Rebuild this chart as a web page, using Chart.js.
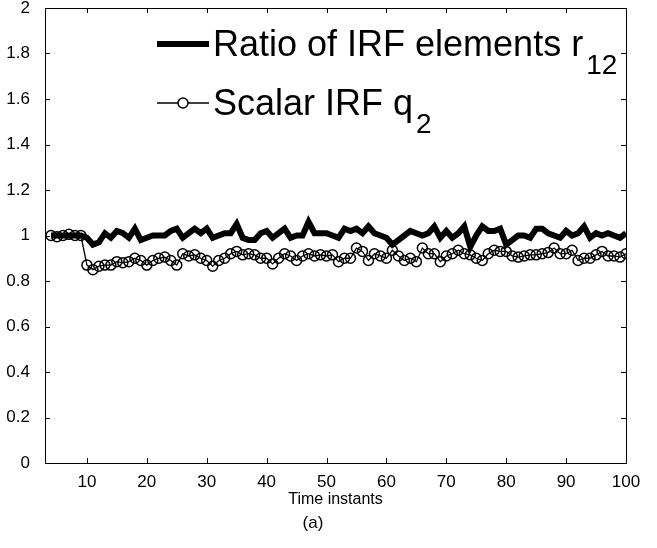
<!DOCTYPE html>
<html>
<head>
<meta charset="utf-8">
<script src="https://cdn.jsdelivr.net/npm/chart.js@4.4.0/dist/chart.umd.min.js"></script>
<style>
    html, body { margin: 0; padding: 0; background: #fff; }
    #wrap { position: relative; width: 657px; height: 548px; }
</style>
</head>
<body>
<div id="wrap"><canvas id="irf-chart"></canvas></div>
<script>
const timeInstants = [4, 5, 6, 7, 8, 9, 10, 11, 12, 13, 14, 15, 16, 17, 18, 19, 20,
    21, 22, 23, 24, 25, 26, 27, 28, 29, 30, 31, 32, 33, 34, 35, 36, 37, 38, 39, 40,
    41, 42, 43, 44, 45, 46, 47, 48, 49, 50, 51, 52, 53, 54, 55, 56, 57, 58, 59, 60,
    61, 62, 63, 64, 65, 66, 67, 68, 69, 70, 71, 72, 73, 74, 75, 76, 77, 78, 79, 80,
    81, 82, 83, 84, 85, 86, 87, 88, 89, 90, 91, 92, 93, 94, 95, 96, 97, 98, 99, 100];

const ratioR12 = [1.00, 1.00, 1.00, 1.00, 1.00, 1.00, 0.99, 0.96, 0.97, 1.01, 0.99, 1.02, 1.01, 0.99, 1.03, 0.98, 0.99,
    1.00, 1.00, 1.00, 1.02, 1.03, 0.99, 1.01, 1.03, 1.01, 1.03, 0.99, 1.00, 1.01, 1.01, 1.05, 0.99, 0.98, 0.98, 1.01, 1.02,
    0.99, 1.01, 1.03, 0.99, 1.00, 1.00, 1.06, 1.01, 1.01, 1.01, 1.00, 0.99, 1.03, 1.02, 1.03, 1.01, 1.04, 1.01, 1.00, 0.99,
    0.96, 0.98, 1.00, 1.02, 1.01, 1.00, 1.01, 1.04, 0.99, 1.02, 0.99, 1.01, 1.04, 0.95, 1.00, 1.04, 1.02, 1.02, 1.03, 0.96,
    0.98, 1.00, 1.00, 0.99, 1.03, 1.03, 1.01, 1.00, 0.99, 1.02, 1.00, 1.01, 1.04, 0.99, 1.01, 1.00, 1.01, 1.00, 0.99, 1.01];

const scalarQ2 = [1.00, 0.995, 1.00, 1.005, 1.00, 1.00, 0.87, 0.85, 0.865, 0.87, 0.87, 0.885, 0.88, 0.885, 0.90, 0.89, 0.87,
    0.89, 0.90, 0.905, 0.89, 0.87, 0.92, 0.91, 0.915, 0.90, 0.89, 0.865, 0.89, 0.90, 0.92, 0.93, 0.915, 0.92, 0.915, 0.90, 0.90,
    0.875, 0.90, 0.92, 0.91, 0.89, 0.91, 0.92, 0.91, 0.915, 0.91, 0.915, 0.885, 0.90, 0.90, 0.945, 0.93, 0.89, 0.92, 0.91, 0.90,
    0.935, 0.91, 0.89, 0.90, 0.885, 0.945, 0.92, 0.92, 0.885, 0.91, 0.92, 0.935, 0.92, 0.915, 0.90, 0.89, 0.92, 0.935, 0.93, 0.93,
    0.91, 0.905, 0.91, 0.915, 0.915, 0.92, 0.925, 0.945, 0.92, 0.92, 0.935, 0.89, 0.90, 0.90, 0.915, 0.93, 0.91, 0.91, 0.905, 0.92];

const xTickValues = [10, 20, 30, 40, 50, 60, 70, 80, 90, 100];
const yTickValues = [0, 0.2, 0.4, 0.6, 0.8, 1, 1.2, 1.4, 1.6, 1.8, 2];

const legendItems = [
    { text: 'Ratio of IRF elements r', sub: '12', marker: false },
    { text: 'Scalar IRF q', sub: '2', marker: true }
];

const FONT = "'Liberation Sans', Arial, Helvetica, sans-serif";

// box round the plot with inward tick marks, plus the legend (needs subscripts)
const boxAndLegend = {
    id: 'boxAndLegend',
    afterDraw(chart) {
        const ctx = chart.ctx;
        const area = chart.chartArea;
        const xs = chart.scales.x;
        const ys = chart.scales.y;
        const tick = 5;

        ctx.save();
        ctx.strokeStyle = '#000';
        ctx.lineWidth = 1;
        ctx.strokeRect(Math.round(area.left) + 0.5, Math.round(area.top) + 0.5,
            Math.round(area.right - area.left), Math.round(area.bottom - area.top));

        ctx.beginPath();
        xTickValues.forEach(v => {
            const px = Math.round(xs.getPixelForValue(v)) + 0.5;
            ctx.moveTo(px, area.bottom);
            ctx.lineTo(px, area.bottom - tick);
            ctx.moveTo(px, area.top);
            ctx.lineTo(px, area.top + tick);
        });
        yTickValues.forEach(v => {
            const py = Math.round(ys.getPixelForValue(v)) + 0.5;
            ctx.moveTo(area.left, py);
            ctx.lineTo(area.left + tick, py);
            ctx.moveTo(area.right, py);
            ctx.lineTo(area.right - tick, py);
        });
        ctx.stroke();

        // legend
        const lx0 = 157, lx1 = 209, tx = 213;
        const rows = [44, 103];
        legendItems.forEach((item, i) => {
            const y = rows[i];
            ctx.beginPath();
            ctx.lineWidth = item.marker ? 1.3 : 6;
            ctx.moveTo(lx0, y);
            ctx.lineTo(lx1, y);
            ctx.stroke();
            if (item.marker) {
                ctx.beginPath();
                ctx.lineWidth = 1.5;
                ctx.arc((lx0 + lx1) / 2, y, 5, 0, Math.PI * 2);
                ctx.fillStyle = '#fff';
                ctx.fill();
                ctx.stroke();
            }
            ctx.fillStyle = '#000';
            ctx.textBaseline = 'alphabetic';
            ctx.textAlign = 'left';
            ctx.font = '36px ' + FONT;
            ctx.fillText(item.text, tx, y + 12);
            const w = ctx.measureText(item.text).width;
            ctx.font = '28px ' + FONT;
            ctx.fillText(item.sub, tx + w + 3, y + 30);
        });
        ctx.restore();
    }
};

const canvas = document.getElementById('irf-chart');
const ctx = canvas.getContext('2d');

new Chart(ctx, {
    type: 'line',
    data: {
        datasets: [{
            label: 'Scalar IRF q2',
            data: timeInstants.map((t, i) => ({ x: t, y: scalarQ2[i] })),
            borderColor: '#000',
            borderWidth: 1.3,
            pointStyle: 'circle',
            pointRadius: 5,
            pointBorderWidth: 1.5,
            pointBorderColor: '#000',
            pointBackgroundColor: 'rgba(0,0,0,0)',
            tension: 0,
            order: 0
        }, {
            label: 'Ratio of IRF elements r12',
            data: timeInstants.map((t, i) => ({ x: t, y: ratioR12[i] })),
            borderColor: '#000',
            borderWidth: 6,
            pointRadius: 0,
            tension: 0,
            order: 1
        }]
    },
    options: {
        responsive: true,
        maintainAspectRatio: false,
        animation: false,
        layout: {
            padding: { top: 8, right: 31, left: 0, bottom: 0 }
        },
        scales: {
            x: {
                type: 'linear',
                min: 3,
                max: 100,
                afterBuildTicks: s => { s.ticks = xTickValues.map(v => ({ value: v })); },
                afterFit: s => { s.height = 48; s.paddingLeft = 0; s.paddingRight = 0; },
                grid: { display: false, drawTicks: false },
                border: { display: false },
                ticks: {
                    color: '#000',
                    font: { family: FONT, size: 17 },
                    padding: 9,
                    maxRotation: 0,
                    autoSkip: false
                },
                title: {
                    display: true,
                    text: 'Time instants',
                    color: '#000',
                    font: { family: FONT, size: 16 },
                    padding: { top: 0, bottom: 2 }
                }
            },
            y: {
                min: 0,
                max: 2,
                afterBuildTicks: s => { s.ticks = yTickValues.map(v => ({ value: v })); },
                afterFit: s => { s.width = 45; s.paddingTop = 0; s.paddingBottom = 0; },
                grid: { display: false, drawTicks: false },
                border: { display: false },
                ticks: {
                    color: '#000',
                    font: { family: FONT, size: 17 },
                    padding: 15,
                    callback: v => String(Number(v.toFixed(1)))
                }
            }
        },
        plugins: {
            legend: { display: false },
            tooltip: { enabled: false },
            title: {
                display: true,
                position: 'bottom',
                text: '(a)',
                color: '#000',
                font: { family: FONT, size: 17, weight: 'normal' },
                padding: { top: 2, bottom: 14.6 }
            }
        }
    },
    plugins: [boxAndLegend]
});
</script>
</body>
</html>
